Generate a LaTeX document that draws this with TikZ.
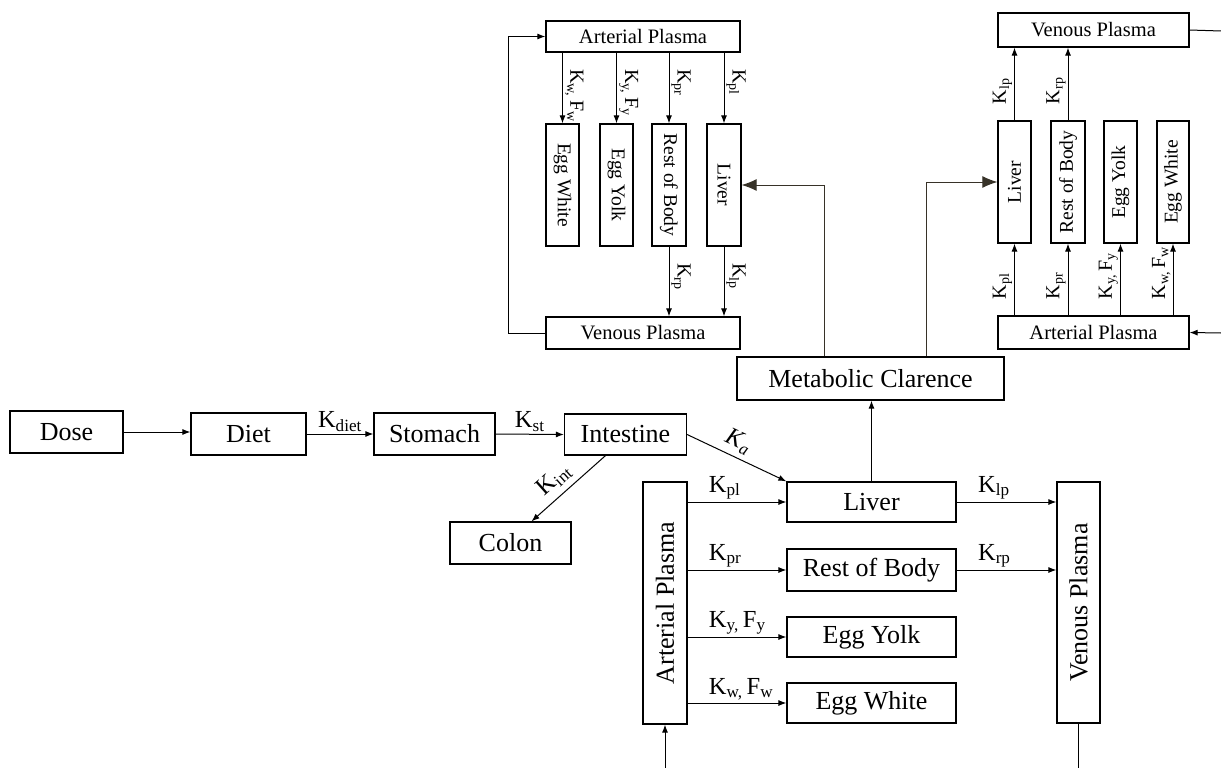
\documentclass[tikz,border=0pt]{standalone}
\usepackage{fontspec}
\usepackage{graphicx}
\setmainfont{Liberation Serif}
\usetikzlibrary{arrows.meta,calc}
\definecolor{darkarr}{RGB}{55,50,40}
\begin{document}
\begin{tikzpicture}[x=1pt,y=-1pt,
 box/.style={draw, line width=1.2pt, inner sep=0pt, align=center},
 big/.style={font=\fontsize{26}{30}\selectfont},
 small/.style={font=\fontsize{20.5}{24}\selectfont},
 vsmall/.style={font=\fontsize{19.5}{23}\selectfont},
 arr/.style={line width=1pt, -{Latex[length=8pt,width=6pt]}},
 ln/.style={line width=1pt},
 bigarr/.style={line width=1pt, draw=darkarr, -{Latex[length=15pt,width=12pt]}},
 lbl/.style={font=\fontsize{24.5}{28}\selectfont, inner sep=2pt},
 tlbl/.style={font=\fontsize{20}{24}\selectfont, inner sep=2pt},
]
\useasboundingbox (0,0) rectangle (1221,768);

% ---------- bottom main chain ----------
\node[box,big,minimum width=113pt,minimum height=42pt] (dose) at (66.5,432) {Dose};
\node[box,big,minimum width=115pt,minimum height=42pt] (diet) at (248.5,434) {Diet};
\node[box,big,minimum width=121pt,minimum height=42pt] (stomach) at (434.5,434) {Stomach};
\node[box,big,minimum width=122pt,minimum height=41pt] (intestine) at (625.5,434.5) {Intestine};
\node[box,big,minimum width=121pt,minimum height=42pt] (colon) at (510.5,543) {Colon};
\node[box,big,minimum width=267pt,minimum height=43pt] (meta) at (870.5,378.5) {Metabolic Clarence};

\node[box,big,minimum width=44pt,minimum height=242pt] (artB) at (665,603) {\rotatebox{90}{Arterial Plasma}};
\node[box,big,minimum width=169pt,minimum height=40pt] (liverB) at (871.5,502) {Liver};
\node[box,big,minimum width=169pt,minimum height=42pt] (restB) at (871.5,570) {Rest of Body};
\node[box,big,minimum width=169pt,minimum height=40pt] (yolkB) at (871.5,637) {Egg Yolk};
\node[box,big,minimum width=169pt,minimum height=40pt] (whiteB) at (871.5,703) {Egg White};
\node[box,big,minimum width=43pt,minimum height=241pt] (venB) at (1078.5,602.5) {\rotatebox{90}{Venous Plasma}};

\coordinate (inB) at (665,768);
\coordinate (outB) at (1078.5,768);

% ---------- top-left block ----------
\node[box,small,minimum width=194pt,minimum height=31pt] (artTL) at (643,36.5) {Arterial Plasma};
\node[box,vsmall,minimum width=33pt,minimum height=122pt] (whiteTL) at (562.5,185) {\rotatebox{-90}{Egg White}};
\node[box,vsmall,minimum width=33pt,minimum height=122pt] (yolkTL) at (616.5,185) {\rotatebox{-90}{Egg Yolk}};
\node[box,vsmall,minimum width=34pt,minimum height=122pt] (restTL) at (669,185) {\rotatebox{-90}{Rest of Body}};
\node[box,vsmall,minimum width=34pt,minimum height=122pt] (liverTL) at (724,185) {\rotatebox{-90}{Liver}};
\node[box,small,minimum width=194pt,minimum height=32pt] (venTL) at (643,333) {Venous Plasma};

% ---------- top-right block ----------
\node[box,small,minimum width=191pt,minimum height=34pt] (venTR) at (1093.5,30) {Venous Plasma};
\node[box,vsmall,minimum width=33pt,minimum height=122pt] (liverTR) at (1014.5,182) {\rotatebox{90}{Liver}};
\node[box,vsmall,minimum width=34pt,minimum height=122pt] (restTR) at (1068,182) {\rotatebox{90}{Rest of Body}};
\node[box,vsmall,minimum width=33pt,minimum height=122pt] (yolkTR) at (1120.5,182) {\rotatebox{90}{Egg Yolk}};
\node[box,vsmall,minimum width=32pt,minimum height=122pt] (whiteTR) at (1173,182) {\rotatebox{90}{Egg White}};
\node[box,small,minimum width=191pt,minimum height=33pt] (artTR) at (1093.5,332.5) {Arterial Plasma};

\coordinate (outTR) at (1221,31);
\coordinate (inTR) at (1221,333);

% ---------- bottom connectors ----------
\draw[arr] (dose.east) -- (dose.east -| diet.west);
\draw[arr] (diet.east) -- (stomach.west) node[midway,above,lbl]{K\textsubscript{diet}};
\draw[arr] (stomach.east) -- (intestine.west) node[midway,above,lbl]{K\textsubscript{st}};
\draw[arr] (intestine.east) -- (liverB.north west) node[pos=0.45,above=3pt,sloped,lbl]{\textit{K}\textsubscript{\textit{a}}};
\draw[arr] ($(intestine.south)+(-20,0)$) -- ($(colon.north)+(21,0)$) node[pos=0.55,above=4pt,sloped,lbl]{K\textsubscript{int}};

\draw[arr] (artB.east |- liverB.west) -- (liverB.west) node[pos=0.19,anchor=south west,lbl]{K\textsubscript{pl}};
\draw[arr] (artB.east |- restB.west) -- (restB.west) node[pos=0.19,anchor=south west,lbl]{K\textsubscript{pr}};
\draw[arr] (artB.east |- yolkB.west) -- (yolkB.west) node[pos=0.19,anchor=south west,lbl]{K\textsubscript{y,}\,F\textsubscript{y}};
\draw[arr] (artB.east |- whiteB.west) -- (whiteB.west) node[pos=0.19,anchor=south west,lbl]{K\textsubscript{w,}\,F\textsubscript{w}};
\draw[arr] (liverB.east) -- (liverB.east -| venB.west) node[pos=0.19,anchor=south west,lbl]{K\textsubscript{lp}};
\draw[arr] (restB.east) -- (restB.east -| venB.west) node[pos=0.19,anchor=south west,lbl]{K\textsubscript{rp}};

\draw[arr] (liverB.north) -- (liverB.north |- meta.south);
\draw[arr] (inB) -- (artB.south);
\draw[ln] (venB.south) -- (outB);

% ---------- metabolic clearance to top livers ----------
\draw[bigarr] ($(meta.north west)+(88,0)$) |- (liverTL.east);
\draw[bigarr] ($(meta.north west)+(190,0)$) |- (liverTR.west);

% ---------- top-left connectors ----------
\draw[arr] (whiteTL.north |- artTL.south) -- (whiteTL.north) node[pos=0.2,rotate=-90,anchor=south west,tlbl]{K\textsubscript{w,}\,F\textsubscript{w}};
\draw[arr] (yolkTL.north |- artTL.south) -- (yolkTL.north) node[pos=0.2,rotate=-90,anchor=south west,tlbl]{K\textsubscript{y,}\,F\textsubscript{y}};
\draw[arr] (restTL.north |- artTL.south) -- (restTL.north) node[pos=0.2,rotate=-90,anchor=south west,tlbl]{K\textsubscript{pr}};
\draw[arr] (liverTL.north |- artTL.south) -- (liverTL.north) node[pos=0.2,rotate=-90,anchor=south west,tlbl]{K\textsubscript{pl}};
\draw[arr] (restTL.south) -- (restTL.south |- venTL.north) node[pos=0.2,rotate=-90,anchor=south west,tlbl]{K\textsubscript{rp}};
\draw[arr] (liverTL.south) -- (liverTL.south |- venTL.north) node[pos=0.2,rotate=-90,anchor=south west,tlbl]{K\textsubscript{lp}};
\draw[arr] (venTL.west) -- ++(-37,0) |- (artTL.west);

% ---------- top-right connectors ----------
\draw[arr] (liverTR.north) -- (liverTR.north |- venTR.south) node[pos=0.19,rotate=90,anchor=south west,tlbl]{K\textsubscript{lp}};
\draw[arr] (restTR.north) -- (restTR.north |- venTR.south) node[pos=0.19,rotate=90,anchor=south west,tlbl]{K\textsubscript{rp}};
\draw[arr] (liverTR.south |- artTR.north) -- (liverTR.south) node[pos=0.19,rotate=90,anchor=south west,tlbl]{K\textsubscript{pl}};
\draw[arr] (restTR.south |- artTR.north) -- (restTR.south) node[pos=0.19,rotate=90,anchor=south west,tlbl]{K\textsubscript{pr}};
\draw[arr] (yolkTR.south |- artTR.north) -- (yolkTR.south) node[pos=0.19,rotate=90,anchor=south west,tlbl]{K\textsubscript{y,}\,F\textsubscript{y}};
\draw[arr] (whiteTR.south |- artTR.north) -- (whiteTR.south) node[pos=0.19,rotate=90,anchor=south west,tlbl]{K\textsubscript{w,}\,F\textsubscript{w}};
\draw[ln] (venTR.east) -- (outTR);
\draw[arr] (inTR) -- (artTR.east);
\end{tikzpicture}
\end{document}
